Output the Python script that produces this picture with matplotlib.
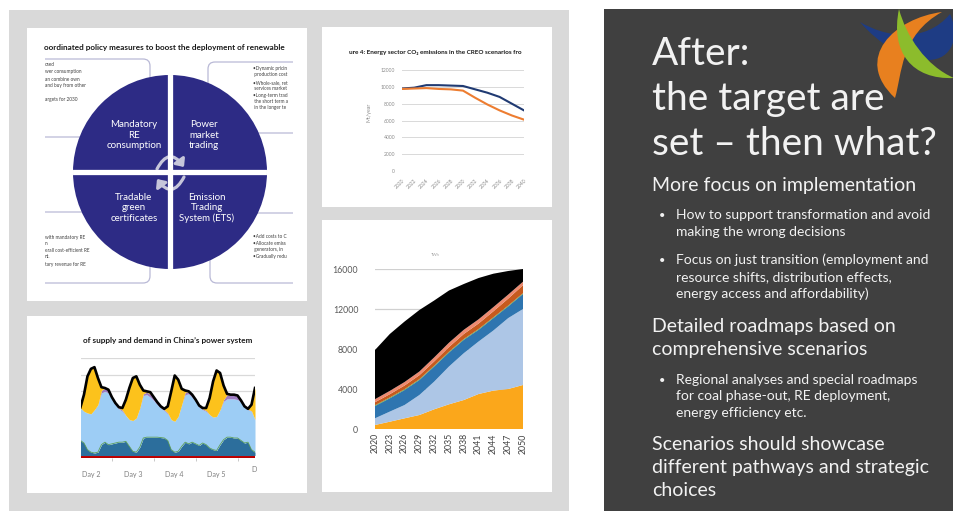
import numpy as np
import matplotlib
matplotlib.use("Agg")
from matplotlib import pyplot as plt
from matplotlib.patches import Rectangle, FancyBboxPatch, Circle, PathPatch, FancyArrowPatch
from matplotlib.path import Path

W, H = 954, 511

# CO2 emissions chart (Mt/year), two CREO scenarios
co2_years = [2020, 2022, 2024, 2026, 2028, 2030, 2032, 2034, 2036, 2038, 2040]
co2_stated = [9800, 9900, 10200, 10200, 10150, 10100, 9700, 9300, 8800, 8000, 7200]
co2_below2 = [9750, 9800, 9850, 9750, 9700, 9550, 8700, 7900, 7200, 6600, 6100]

# stacked area chart, layers from the bottom up
cap_years = [2020, 2023, 2026, 2029, 2032, 2035, 2038, 2041, 2044, 2047, 2050]
cap_solar = [400, 730, 1070, 1400, 1970, 2470, 2900, 3500, 3840, 4000, 4400]
cap_wind = [670, 1010, 1330, 2000, 2770, 3780, 4680, 5250, 6010, 7090, 7600]
cap_hydro = [1230, 1330, 1500, 1500, 1510, 1400, 1340, 1170, 1240, 1170, 1500]
cap_bio = [80, 80, 80, 80, 80, 80, 80, 80, 80, 80, 80]
cap_nuclear = [300, 330, 370, 400, 430, 470, 500, 550, 600, 700, 800]
cap_gas = [300, 330, 350, 370, 400, 430, 420, 420, 420, 400, 350]
cap_coal = [4920, 5690, 6050, 6150, 5690, 5220, 4580, 4130, 3340, 2360, 1270]
cap_colors = ['#fba71b', '#adc6e6', '#2e75b0', '#5aa23c', '#c65a1e', '#ee8a70', '#000000']
cap_yticks = [0, 4000, 8000, 12000, 16000]

# hourly supply and demand, every 2 hours
hours = [30, 32, 34, 36, 38, 40, 42, 44, 46, 48, 50, 52, 54, 56, 58, 60, 62, 64,
         66, 68, 70, 72, 74, 76, 78, 80, 82, 84, 86, 88, 90, 92, 94, 96, 98, 100,
         102, 104, 106, 108, 110, 112, 114, 116, 118, 120, 122, 124, 126, 128, 130]
demand = [610, 760, 980, 1070, 1090, 960, 850, 840, 820, 730, 660, 610, 600, 700,
          840, 960, 980, 880, 810, 800, 790, 730, 670, 620, 590, 620, 800, 990, 940,
          830, 810, 800, 760, 700, 630, 600, 600, 720, 920, 1050, 1020, 870, 770,
          760, 760, 750, 690, 620, 590, 640, 840]
lblue_top = [600, 560, 540, 530, 580, 640, 780, 800, 780, 710, 640, 590, 560, 510,
             460, 450, 480, 600, 750, 760, 730, 690, 640, 600, 570, 530, 460, 440,
             500, 640, 760, 770, 730, 680, 610, 580, 560, 520, 490, 500, 580, 680,
             710, 710, 710, 700, 670, 610, 580, 560, 460]
dblue_top = [210, 180, 100, 70, 60, 70, 160, 190, 160, 170, 180, 190, 190, 200, 140,
             80, 70, 130, 240, 250, 250, 250, 250, 245, 240, 210, 100, 70, 80, 140,
             190, 170, 190, 170, 150, 180, 160, 120, 100, 90, 160, 220, 250, 250, 240,
             240, 210, 180, 190, 100, 70]
purple_band = [0, 0, 0, 0, 0, 0, 30, 40, 40, 20, 15, 10, 15, 0, 0, 0, 0, 0, 20, 30,
               35, 25, 20, 15, 10, 10, 0, 0, 0, 0, 30, 25, 25, 15, 10, 10, 10, 0, 0,
               0, 0, 20, 50, 45, 45, 40, 20, 10, 5, 5, 0]
red_level = 30
day_pos = [36, 60, 84, 108]
day_labels = ['Day 2', 'Day 3', 'Day 4', 'Day 5']

SLIDE_FONT = ['Lato', 'DejaVu Sans']
plt.rcParams['font.family'] = SLIDE_FONT

fig = plt.figure(figsize=(W / 100, H / 100), dpi=100)
bg = fig.add_axes([0, 0, 1, 1])
bg.set_xlim(0, W)
bg.set_ylim(H, 0)
bg.axis('off')


def px_axes(x0, y0, x1, y1):
    ax = fig.add_axes([x0 / W, 1 - y1 / H, (x1 - x0) / W, (y1 - y0) / H])
    ax.set_facecolor('none')
    return ax


# slide background
bg.add_patch(Rectangle((9, 10), 560, 505, color='#d9d9d9', lw=0))
bg.add_patch(Rectangle((604, 9), 354, 505, color='#404040', lw=0))
for x0, y0, x1, y1 in [(27, 28, 307, 301), (27, 316, 307, 493),
                       (322, 27, 552, 207), (322, 220, 552, 492)]:
    bg.add_patch(Rectangle((x0, y0), x1 - x0, y1 - y0, color='white', lw=0))

# ---- policy diagram (top left)
clip1 = Rectangle((45, 35), 248, 262, transform=bg.transData)
bg.text(44, 50, 'oordinated policy measures to boost the deployment of renewable',
        fontsize=5.9, fontweight='bold', color='#1a1a1a', va='baseline')
for bx, by, bw, bh in [(30, 59, 120, 78), (208, 62, 110, 71),
                       (30, 212, 120, 71), (210, 213, 110, 70)]:
    box = FancyBboxPatch((bx, by), bw, bh, boxstyle='round,pad=0,rounding_size=7',
                         fc='white', ec='#b9b9d6', lw=0.9)
    bg.add_patch(box)
    box.set_clip_path(clip1)

small = dict(fontsize=3.4, color='#404040', va='baseline')
for y, s in [(66, 'osed'), (73, 'wer consumption'), (81, 'an combine own'),
             (87, 'and buy from other'), (101, 'argets for 2030'),
             (239, 'with mandatory RE'), (245, 'n'), (252, 'erall cost-efficient RE'),
             (258, 'nt.'), (266, 'tary revenue for RE')]:
    bg.text(45, y, s, **small)
for y, s in [(70, '\u2022Dynamic pricin'), (76, ' production cost'),
             (84, '\u2022Whole-sale, ret'), (90, ' services market'),
             (97, '\u2022Long-term trad'), (103, ' the short term a'),
             (109, ' in the longer te'),
             (238, '\u2022Add costs to C'), (245, '\u2022Allocate emiss'),
             (251, ' generators, in'), (258, '\u2022Gradually redu')]:
    bg.text(253, y, s, **small)

cx, cy, r = 170, 172, 97
disc = Circle((cx, cy), r, color='#2d2b85', lw=0)
bg.add_patch(disc)
for ln in [bg.plot([cx, cx], [cy - r - 2, cy + r + 2], color='white', lw=3.8)[0],
           bg.plot([cx - r - 2, cx + r + 2], [cy, cy], color='white', lw=3.8)[0]]:
    ln.set_clip_path(disc)
quad = dict(fontsize=7, color='white', ha='center', va='center', linespacing=1.15)
bg.text(134, 135, 'Mandatory\nRE\nconsumption', **quad)
bg.text(204, 135, 'Power\nmarket\ntrading', **quad)
bg.text(134, 208, 'Tradable\ngreen\ncertificates', **quad)
bg.text(207, 208, 'Emission\nTrading\nSystem (ETS)', **quad)
for p0, p1 in [((157, 169), (184, 167)), ((184, 177), (157, 179))]:
    bg.add_patch(FancyArrowPatch(p0, p1, connectionstyle='arc3,rad=-0.8',
                                 arrowstyle='-|>,head_length=0.5,head_width=0.45',
                                 mutation_scale=8, color='#c6c6da', lw=2.3,
                                 shrinkA=0, shrinkB=0))

# ---- CO2 line chart (top right)
bg.text(349, 54, 'ure 4: Energy sector CO\u2082 emissions in the CREO scenarios fro',
        fontsize=4.6, fontweight='bold', color='#1a1a1a', va='baseline')
bg.text(369, 112, 'Mt/year', rotation=90, fontsize=3.8, color='#8c8c8c',
        ha='center', va='center')
ax2 = px_axes(402, 70, 524, 171)
ax2.plot(co2_years, co2_stated, color='#203a72', lw=1.5)
ax2.plot(co2_years, co2_below2, color='#ed7d31', lw=1.5)
ax2.set_xlim(2020, 2040)
ax2.set_ylim(0, 12000)
ax2.set_yticks(range(0, 12001, 2000))
ax2.set_xticks(co2_years)
ax2.set_xticklabels([str(y) for y in co2_years], rotation=45, ha='right',
                    va='top', rotation_mode='anchor')
ax2.yaxis.grid(True, color='#d9d9d9', lw=0.7)
ax2.set_axisbelow(True)
for s in ax2.spines.values():
    s.set_visible(False)
ax2.tick_params(length=0, labelsize=3.6, labelcolor='#8c8c8c', pad=5)

# ---- stacked areas (bottom right)
bg.text(435, 255, 'TWh', fontsize=3, color='#a6a6a6', ha='center', va='center')
ax4 = px_axes(375, 269, 523, 429)
ax4.stackplot(cap_years, cap_solar, cap_wind, cap_hydro, cap_bio, cap_nuclear,
              cap_gas, cap_coal, colors=cap_colors, lw=0)
ax4.set_xlim(2020, 2050)
ax4.set_ylim(0, 16000)
ax4.set_yticks(cap_yticks)
ax4.set_xticks(cap_years)
ax4.set_xticklabels([str(y) for y in cap_years], rotation=90)
ax4.yaxis.grid(True, color='#d0d0d0', lw=0.9)
ax4.set_axisbelow(True)
for s in ax4.spines.values():
    s.set_visible(False)
ax4.tick_params(length=0, labelsize=6.3, pad=3)
ax4.tick_params(axis='y', labelcolor='#595959', pad=12)
ax4.tick_params(axis='x', labelcolor='#404040')

# ---- hourly supply and demand (bottom left)
bg.text(83, 343, "of supply and demand in China\u2019s power system",
        fontsize=5.9, fontweight='bold', color='#1a1a1a', va='baseline')
ax3 = px_axes(81, 358, 255, 458)
h = np.array(hours)
purple_top = np.array(lblue_top) + np.array(purple_band)
ax3.fill_between(h, 0, red_level, color='#c00000', lw=0)
ax3.fill_between(h, red_level, dblue_top, color='#2c6e9c', lw=0)
ax3.plot(h, dblue_top, color='#5b9e5b', lw=0.6)
ax3.fill_between(h, dblue_top, lblue_top, color='#9dcdf5', lw=0)
ax3.fill_between(h, lblue_top, purple_top, color='#9e7cc0', lw=0)
ax3.fill_between(h, purple_top, demand, color='#fcc21c', lw=0)
ax3.plot(h, demand, color='black', lw=1.9, solid_joinstyle='round')
ax3.axhline(2, color='black', lw=0.8)
ax3.set_xlim(30.3, 130)
ax3.set_ylim(0, 1200)
ax3.set_yticks([0, 200, 400, 600, 800, 1000, 1200])
ax3.yaxis.grid(True, color='#d9d9d9', lw=0.9)
ax3.set_axisbelow(True)
ax3.set_yticklabels([])
ax3.set_xticks(day_pos)
ax3.set_xticklabels(day_labels)
ax3.set_xticks([48, 72, 96, 120], minor=True)
ax3.tick_params(axis='y', length=0)
ax3.tick_params(axis='x', which='major', length=0, labelsize=5.1,
                labelcolor='#7f7f7f', pad=9)
ax3.tick_params(axis='x', which='minor', length=2.5, color='#bfbfbf', width=0.6)
for s in ax3.spines.values():
    s.set_visible(False)
# "Day 6" is cut off by the edge of the pasted picture
bg.text(251, 470, 'D', fontsize=5.1, color='#7f7f7f', va='center')


# ---- logo
def blob(verts, color):
    codes = [Path.MOVETO] + [Path.CURVE4] * (len(verts) - 1)
    bg.add_patch(PathPatch(Path(verts, codes), fc=color, lw=0))


blob([(860, 22), (885, 37), (925, 44), (950, 14),
      (960, 35), (953, 60), (928, 60),
      (905, 60), (880, 45), (860, 22)], '#1e3c84')
blob([(942, 12), (895, 18), (852, 58), (895, 98),
      (902, 75), (900, 35), (942, 12)], '#e8801f')
blob([(899, 9), (890, 52), (912, 80), (954, 78),
      (926, 66), (906, 36), (899, 9)], '#8cbc2c')

# ---- slide text
head = dict(color='#f2f2f2', va='baseline', family=SLIDE_FONT)
bg.text(652, 65, 'After:', fontsize=28, **head)
bg.text(652, 110, 'the target are', fontsize=28, **head)
bg.text(652, 155, 'set \u2013 then what?', fontsize=28, **head)
for y, s in [(191, 'More focus on implementation'),
             (332, 'Detailed roadmaps based on'), (355, 'comprehensive scenarios'),
             (450, 'Scenarios should showcase'),
             (473, 'different pathways and strategic'), (496, 'choices')]:
    bg.text(652, y, s, fontsize=14, **head)
for y, s in [(219, 'How to support transformation and avoid'),
             (236, 'making the wrong decisions'),
             (264, 'Focus on just transition (employment and'),
             (281, 'resource shifts, distribution effects,'),
             (298, 'energy access and affordability)'),
             (384, 'Regional analyses and special roadmaps'),
             (400, 'for coal phase-out, RE deployment,'),
             (417, 'energy efficiency etc.')]:
    bg.text(676, y, s, fontsize=10, **head)
for y in [219, 264, 384]:
    bg.text(659, y, '\u2022', fontsize=8, **head)

fig.savefig('out.png', dpi=100)
